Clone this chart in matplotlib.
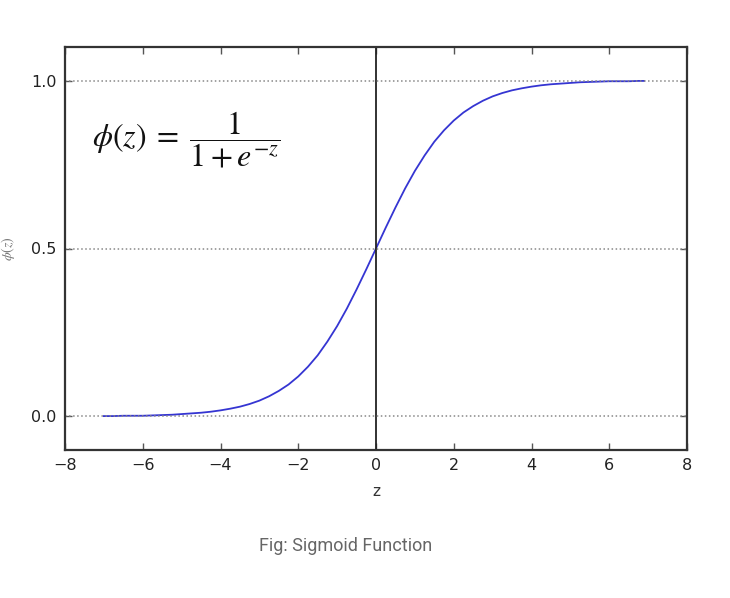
import numpy as np
import matplotlib.pyplot as plt

# sigmoid curve
z_vals = [-7.0, -6.75, -6.5, -6.25, -6.0, -5.75, -5.5, -5.25, -5.0, -4.75,
          -4.5, -4.25, -4.0, -3.75, -3.5, -3.25, -3.0, -2.75, -2.5, -2.25,
          -2.0, -1.75, -1.5, -1.25, -1.0, -0.75, -0.5, -0.25, 0.0, 0.25,
          0.5, 0.75, 1.0, 1.25, 1.5, 1.75, 2.0, 2.25, 2.5, 2.75,
          3.0, 3.25, 3.5, 3.75, 4.0, 4.25, 4.5, 4.75, 5.0, 5.25,
          5.5, 5.75, 6.0, 6.25, 6.5, 6.75, 6.9]
phi_vals = [0.001, 0.001, 0.002, 0.002, 0.002, 0.003, 0.004, 0.005, 0.007, 0.009,
            0.011, 0.014, 0.018, 0.023, 0.029, 0.037, 0.047, 0.060, 0.076, 0.095,
            0.119, 0.148, 0.182, 0.223, 0.269, 0.321, 0.378, 0.438, 0.500, 0.562,
            0.622, 0.679, 0.731, 0.777, 0.818, 0.852, 0.881, 0.905, 0.924, 0.940,
            0.953, 0.963, 0.971, 0.977, 0.982, 0.986, 0.989, 0.991, 0.993, 0.995,
            0.996, 0.997, 0.998, 0.998, 0.998, 0.999, 0.999]
y_ticks = [0.0, 0.5, 1.0]
x_ticks = [-8, -6, -4, -2, 0, 2, 4, 6, 8]

plt.rcParams['font.family'] = 'DejaVu Sans'
plt.rcParams['mathtext.fontset'] = 'stix'

fig = plt.figure(figsize=(7.3, 5.98), dpi=100)
ax = fig.add_axes([65 / 730, 1 - 450 / 598, 622 / 730, 403 / 598])

ax.plot(z_vals, phi_vals, color='#3535d2', lw=1.3)
ax.axvline(0.0, color='#222222', lw=1.3)
for yt in y_ticks:
    ax.axhline(yt, ls=':', color='#888888', lw=1.1)

ax.set_xlim(-8, 8)
ax.set_ylim(-0.1, 1.1)
ax.set_xticks(x_ticks)
ax.set_xticklabels([str(t).replace('-', '\u2212') for t in x_ticks])
ax.set_yticks(y_ticks)
ax.set_yticklabels(['0.0', '0.5', '1.0'])
ax.tick_params(direction='in', length=5, width=1, color='#555555',
               top=True, right=True, labelsize=11.5, labelcolor='#222222', pad=6)
for s in ax.spines.values():
    s.set_linewidth(1.6)
    s.set_color('#333333')

ax.set_xlabel('z', fontsize=11, color='#333333', labelpad=8)
ax.set_ylabel(r'$\phi(z)$', fontsize=10, color='#777777', labelpad=10)

ax.text(0.043, 0.77, r'$\phi(z)\;=\;\dfrac{\ 1\ }{1+e^{-z}}$', transform=ax.transAxes,
        fontsize=23, va='center', ha='left', color='#111111')

fig.text(346 / 730, 1 - 546 / 598, 'Fig: Sigmoid Function', ha='center', va='center',
         fontsize=13, color='#666666', family='Roboto')

fig.savefig('out.png', dpi=100)
